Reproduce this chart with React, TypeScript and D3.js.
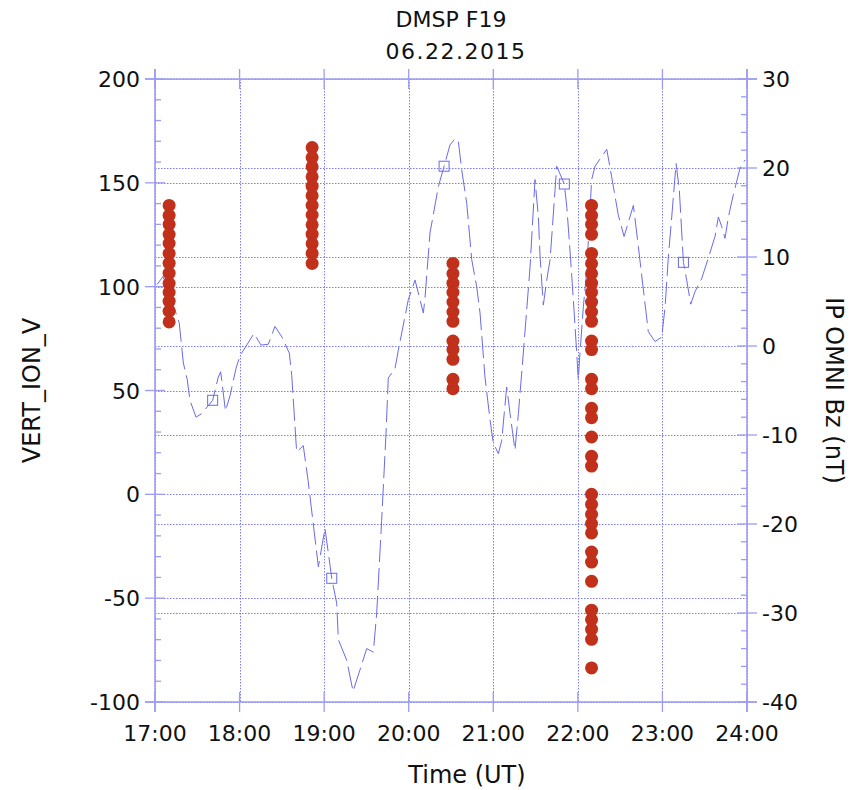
import React from "react";
import * as d3 from "d3";

const titleLines = ["DMSP F19", "06.22.2015"];
const hourLabels = ["17:00", "18:00", "19:00", "20:00", "21:00", "22:00", "23:00", "24:00"];
const hourValues = [17, 18, 19, 20, 21, 22, 23, 24];
const leftTicks = [-100, -50, 0, 50, 100, 150, 200];
const rightTicks = [-40, -30, -20, -10, 0, 10, 20, 30];
const xTitle = "Time (UT)";
const leftTitle = "VERT_ION_V";
const rightTitle = "IP OMNI Bz (nT)";

// DMSP passes: time (hours UT) and vertical ion velocity values
const passTimes = [17.167, 18.858, 20.523, 22.162];
const passValues = [
  [139.1, 134.3, 130.0, 125.2, 120.9, 116.0, 111.3, 106.5, 101.6, 97.3, 93.0, 88.2, 83.0],
  [167.0, 162.2, 157.7, 152.9, 148.4, 143.8, 139.2, 134.5, 129.8, 125.3, 120.7, 116.0, 111.2],
  [111.2, 106.3, 101.7, 97.3, 92.6, 87.8, 83.3, 73.8, 69.7, 65.0, 55.4, 50.9],
  [139.1, 134.3, 130.0, 125.2, 116.0, 111.1, 106.3, 101.7, 97.3, 92.6, 87.8, 83.3, 73.8, 69.7,
    55.4, 50.9, 41.4, 36.9, 27.6, 18.3, 13.6, 0.0, -4.8, -9.6, -14.1, -18.6, -27.8, -32.6, -41.9,
    -55.8, -60.3, -65.0, -69.8, -83.6],
];

// OMNI Bz: minutes after 17:00 UT and values (nT)
const bzMinutes = [
  1.4, 5.7, 10.6, 17.2, 20.1, 22.9, 24.8, 29.1, 33.1, 40.9,
  44.9, 46.6, 50.0, 53.2, 57.5, 60.3, 70.2, 75.2, 80.4, 85.1,
  90.1, 95.3, 97.0, 100.5, 105.2, 108.6, 115.9, 120.6, 125.4, 128.9,
  130.1, 136.0, 140.5, 145.4, 150.2, 154.9, 157.3, 160.8, 163.9, 165.5,
  170.3, 172.6, 179.7, 184.5, 190.4, 191.6, 195.1, 201.0, 205.1, 209.3,
  212.9, 215.2, 217.6, 221.2, 224.7, 228.2, 230.6, 234.1, 237.7, 240.0,
  243.6, 246.0, 249.5, 251.9, 255.4, 257.8, 261.3, 266.1, 269.6, 272.0,
  273.2, 275.5, 277.9, 280.3, 283.8, 285.0, 290.4, 292.1, 294.4, 296.8,
  299.2, 300.3, 301.5, 303.9, 306.3, 309.8, 312.2, 320.5, 324.0, 328.7,
  332.8, 339.4, 342.9, 346.5, 350.0, 354.8, 359.5, 361.9, 364.2, 366.6,
  369.7, 372.0, 374.9, 377.2, 380.1, 383.1, 387.9, 392.6, 397.3, 399.7,
  402.1, 404.4, 406.8, 410.3, 415.1, 418.6,
];
const bzValues = [
  6.9, 7.8, 5.7, 2.6, -1.9, -3.8, -6.1, -8.0, -7.6, -6.1,
  -3.5, -2.9, -7.3, -5.6, -2.5, -1.1, 1.4, 0.1, 0.2, 2.2,
  1.0, -0.8, -3.3, -11.9, -11.2, -15.1, -24.8, -20.5, -26.1, -28.9,
  -33.0, -35.3, -38.8, -36.4, -34.0, -34.4, -30.0, -19.6, -9.8, -3.6,
  -2.5, -0.5, 5.2, 7.4, 3.7, 5.5, 12.7, 17.9, 20.2, 22.6,
  23.3, 23.0, 19.8, 16.0, 9.7, 6.7, 3.7, -3.5, -8.3, -10.9,
  -12.1, -10.6, -4.6, -7.6, -11.7, -7.6, -0.8, 8.9, 18.7, 14.5,
  10.0, 4.6, 7.4, 9.7, 17.5, 20.2, 18.2, 15.7, 10.8, 5.2,
  -0.8, -3.8, -0.8, 4.4, 8.5, 18.7, 20.2, 22.1, 19.0, 14.7,
  12.3, 15.8, 11.2, 6.3, 1.6, 0.5, 1.0, 4.4, 10.0, 14.5,
  20.5, 17.5, 9.4, 7.4, 4.7, 6.1, 7.6, 9.9, 12.3, 14.5,
  13.4, 12.1, 14.5, 17.0, 20.0, 20.9,
];
const bzMarkerIndex = [9, 28, 48, 76, 102];

const W = 856;
const H = 790;
const left = 155, right = 747, top = 79, bottom = 702;

const FONT = "'DejaVu Sans', sans-serif";
const AXIS = "#9c9cf2";
const GRID = "#7c7cee";
const LINE = "#6a6ae8";
const DOT = "#c1301a";

export default function App() {
  const x = d3.scaleLinear().domain([17, 24]).range([left, right]);
  const yL = d3.scaleLinear().domain([-100, 200]).range([bottom, top]);
  const yR = d3.scaleLinear().domain([-40, 30]).range([bottom, top]);

  const bzPts: [number, number][] = bzMinutes.map((m, i) => [17 + m / 60, bzValues[i]]);
  const line = d3
    .line<[number, number]>()
    .x((d) => x(d[0]))
    .y((d) => yR(d[1]));

  const leftMinor = d3.range(-100, 201, 10).filter((v) => v % 50 !== 0);
  const rightMinor = d3.range(-40, 31, 2).filter((v) => v % 10 !== 0);
  const px = (v: number) => Math.round(v) + 0.5;

  return (
    <svg
      width={W}
      height={H}
      style={{ position: "absolute", left: 0, top: 0, background: "#fff" }}
      fontFamily={FONT}
    >
      <rect x={0} y={0} width={W} height={H} fill="#fff" />
      {/* grid */}
      <g stroke={GRID} strokeWidth={1} strokeDasharray="1.5,1.5" fill="none">
        {hourValues.map((h) => (
          <line key={"vg" + h} x1={px(x(h))} x2={px(x(h))} y1={top} y2={bottom} />
        ))}
        {leftTicks.map((v) => (
          <line key={"hl" + v} x1={left} x2={right} y1={px(yL(v))} y2={px(yL(v))} />
        ))}
        {rightTicks.map((v) => (
          <line key={"hr" + v} x1={left} x2={right} y1={px(yR(v))} y2={px(yR(v))} />
        ))}
      </g>
      {/* axes box */}
      <g stroke={AXIS} strokeWidth={1.6} fill="none">
        <line x1={left} x2={left} y1={top - 10} y2={bottom + 10} />
        <line x1={right} x2={right} y1={top - 10} y2={bottom + 10} />
        <line x1={left - 10} x2={right + 10} y1={top} y2={top} />
        <line x1={left - 10} x2={right + 10} y1={bottom} y2={bottom} />
      </g>
      {/* ticks */}
      <g stroke={AXIS} strokeWidth={1.3}>
        {leftTicks.map((v) => (
          <line key={"lt" + v} x1={left - 10} x2={left + 10} y1={yL(v)} y2={yL(v)} />
        ))}
        {leftMinor.map((v) => (
          <line key={"lm" + v} x1={left} x2={left + 6} y1={yL(v)} y2={yL(v)} />
        ))}
        {rightTicks.map((v) => (
          <line key={"rt" + v} x1={right - 10} x2={right + 10} y1={yR(v)} y2={yR(v)} />
        ))}
        {rightMinor.map((v) => (
          <line key={"rm" + v} x1={right - 6} x2={right} y1={yR(v)} y2={yR(v)} />
        ))}
        {hourValues.map((h) => (
          <g key={"xt" + h}>
            <line x1={x(h)} x2={x(h)} y1={bottom - 10} y2={bottom + 10} />
            <line x1={x(h)} x2={x(h)} y1={top - 10} y2={top + 10} />
          </g>
        ))}
      </g>
      {/* Bz line */}
      <path
        d={line(bzPts) || ""}
        fill="none"
        stroke={LINE}
        strokeWidth={1}
        strokeDasharray="22,6"
      />
      {bzMarkerIndex.map((i) => (
        <rect
          key={"m" + i}
          x={x(bzPts[i][0]) - 5}
          y={yR(bzPts[i][1]) - 5}
          width={10}
          height={10}
          fill="none"
          stroke={LINE}
          strokeWidth={1}
        />
      ))}
      {/* DMSP dots */}
      {passValues.map((vals, p) =>
        vals.map((v, j) => (
          <circle key={"d" + p + "_" + j} cx={x(passTimes[p])} cy={yL(v)} r={6.5} fill={DOT} />
        ))
      )}
      {/* labels */}
      <g fontSize={22} fill="#111">
        {leftTicks.map((v) => (
          <text key={"ll" + v} x={140} y={yL(v) + 8} textAnchor="end">
            {v}
          </text>
        ))}
        {rightTicks.map((v) => (
          <text key={"rl" + v} x={762} y={yR(v) + 8} textAnchor="start">
            {v}
          </text>
        ))}
        {hourValues.map((h, i) => (
          <text key={"hl" + h} x={x(h)} y={741} textAnchor="middle">
            {hourLabels[i]}
          </text>
        ))}
        <text x={451} y={27} textAnchor="middle">
          {titleLines[0]}
        </text>
        <text x={456} y={59} textAnchor="middle" letterSpacing={1.5}>
          {titleLines[1]}
        </text>
        <text x={467} y={783} textAnchor="middle" fontSize={24}>
          {xTitle}
        </text>
        <text
          transform={`translate(40,${(top + bottom) / 2}) rotate(-90)`}
          textAnchor="middle"
          fontSize={24}
        >
          {leftTitle}
        </text>
        <text
          transform={`translate(826,${(top + bottom) / 2}) rotate(90)`}
          textAnchor="middle"
          fontSize={24}
        >
          {rightTitle}
        </text>
      </g>
    </svg>
  );
}
